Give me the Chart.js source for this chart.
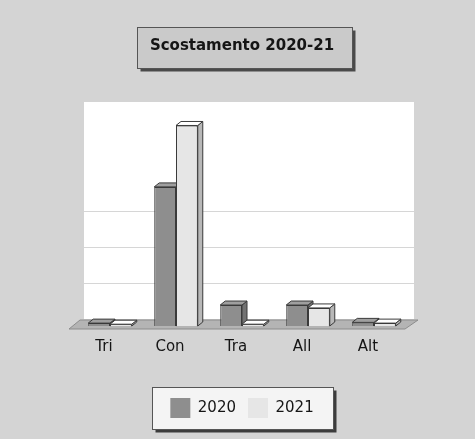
<!DOCTYPE html>
<html>
<head>
<meta charset="utf-8">
<script src="https://cdn.jsdelivr.net/npm/chart.js@4/dist/chart.umd.min.js"></script>
<style>
  html, body { margin: 0; padding: 0; background: #d4d4d4; }
  #wrap { width: 475px; height: 439px; position: relative; }
</style>
</head>
<body>
<div id="wrap"><canvas id="c" width="475" height="439"></canvas></div>
<script>
// Categories and values per year
const categories = ['Tri', 'Con', 'Tra', 'All', 'Alt'];
const values2020 = [0.08, 3.85, 0.58, 0.58, 0.1];
const values2021 = [0.05, 5.55, 0.05, 0.5, 0.08];
const seriesNames = ['2020', '2021'];
const wallGridValues = [1, 2, 3];

const DEPTH = 5;   // bar extrusion
const WALL = 7;    // back wall offset

function shade(hex, f) {
  const n = parseInt(hex.slice(1), 16);
  let r = (n >> 16) & 255, g = (n >> 8) & 255, b = n & 255;
  r = Math.max(0, Math.min(255, Math.round(r * f)));
  g = Math.max(0, Math.min(255, Math.round(g * f)));
  b = Math.max(0, Math.min(255, Math.round(b * f)));
  return 'rgb(' + r + ',' + g + ',' + b + ')';
}

function drawFaces(ctx, meta, color) {
  ctx.save();
  ctx.strokeStyle = '#3a3a3a';
  ctx.lineWidth = 1;
  meta.data.forEach(bar => {
    const p = bar.getProps(['x', 'y', 'base', 'width'], true);
    const l = p.x - p.width / 2, r = p.x + p.width / 2;
    const top = Math.min(p.y, p.base), bot = Math.max(p.y, p.base);
    // side face
    ctx.beginPath();
    ctx.moveTo(r, top);
    ctx.lineTo(r + DEPTH, top - DEPTH + 1);
    ctx.lineTo(r + DEPTH, bot - DEPTH + 1);
    ctx.lineTo(r, bot);
    ctx.closePath();
    ctx.fillStyle = shade(color, 0.8);
    ctx.fill();
    ctx.stroke();
    // top face
    ctx.beginPath();
    ctx.moveTo(l, top);
    ctx.lineTo(l + DEPTH, top - DEPTH + 1);
    ctx.lineTo(r + DEPTH, top - DEPTH + 1);
    ctx.lineTo(r, top);
    ctx.closePath();
    ctx.fillStyle = shade(color, 1.12);
    ctx.fill();
    ctx.stroke();
  });
  ctx.restore();
}

// Back wall, wall grid lines, floor and bar extrusion
const scene3d = {
  id: 'scene3d',
  beforeDatasetsDraw(chart) {
    const { ctx, chartArea: a, scales } = chart;
    ctx.save();
    ctx.fillStyle = '#ffffff';
    ctx.fillRect(a.left + WALL, a.top, a.right - a.left, a.bottom - WALL - a.top);
    ctx.strokeStyle = '#d6d6d6';
    ctx.lineWidth = 1;
    wallGridValues.forEach(v => {
      const y = Math.round(scales.y.getPixelForValue(v) - WALL) + 0.5;
      ctx.beginPath();
      ctx.moveTo(a.left + WALL, y);
      ctx.lineTo(a.right + WALL, y);
      ctx.stroke();
    });
    // floor
    ctx.beginPath();
    ctx.moveTo(a.left - 8, a.bottom + 3);
    ctx.lineTo(a.right - 2, a.bottom + 3);
    ctx.lineTo(a.right + WALL + 4, a.bottom - WALL + 1);
    ctx.lineTo(a.left + WALL - 4, a.bottom - WALL + 1);
    ctx.closePath();
    ctx.fillStyle = '#b4b4b4';
    ctx.fill();
    ctx.strokeStyle = '#8c8c8c';
    ctx.stroke();
    ctx.restore();
  },
  afterDatasetsDraw(chart) {
    const { ctx, chartArea } = chart;
    chart.data.datasets.forEach((ds, i) => {
      const meta = chart.getDatasetMeta(i);
      if (i > 0) {
        // bring later series in front of the previous one's side face
        meta.data.forEach(el => el.draw(ctx, chartArea));
      }
      drawFaces(ctx, meta, ds.backgroundColor);
    });
  }
};

// Framed boxes behind the title and the legend
const frames = {
  id: 'frames',
  beforeDraw(chart) {
    const { ctx } = chart;
    ctx.save();
    const tb = chart.titleBlock;
    if (tb) {
      const w = 215, h = 41;
      const x = Math.round(tb.left + tb.width / 2 - w / 2) + 2.5;
      const y = 27.5;
      ctx.fillStyle = '#4a4a4a';
      ctx.fillRect(x + 3, y + 3, w, h);
      ctx.fillStyle = '#cacaca';
      ctx.fillRect(x, y, w, h);
      ctx.strokeStyle = '#555';
      ctx.lineWidth = 1;
      ctx.strokeRect(x, y, w, h);
    }
    const lg = chart.legend;
    if (lg && lg.legendHitBoxes && lg.legendHitBoxes.length) {
      const hb = lg.legendHitBoxes;
      const x0 = hb[0].left, x1 = hb[hb.length - 1].left + hb[hb.length - 1].width;
      const cy = hb[0].top + hb[0].height / 2;
      const w = 181, h = 42;
      const x = Math.round((x0 + x1) / 2 - w / 2) + 0.5;
      const y = Math.round(cy - h / 2) + 0.5;
      ctx.fillStyle = '#3c3c3c';
      ctx.fillRect(x + 3, y + 3, w, h);
      ctx.fillStyle = '#f4f4f4';
      ctx.fillRect(x, y, w, h);
      ctx.strokeStyle = '#555';
      ctx.lineWidth = 1;
      ctx.strokeRect(x, y, w, h);
    }
    ctx.restore();
  }
};

new Chart(document.getElementById('c'), {
  type: 'bar',
  data: {
    labels: categories,
    datasets: [
      { label: seriesNames[0], data: values2020, backgroundColor: '#8e8e8e',
        borderColor: '#3a3a3a', borderWidth: 1 },
      { label: seriesNames[1], data: values2021, backgroundColor: '#e6e6e6',
        borderColor: '#3a3a3a', borderWidth: 1 }
    ]
  },
  options: {
    responsive: false,
    animation: false,
    layout: { padding: { left: 77, right: 68, top: 0, bottom: 11 } },
    datasets: { bar: { categoryPercentage: 0.66, barPercentage: 1.0 } },
    scales: {
      x: {
        grid: { display: false, drawTicks: false },
        border: { display: false },
        ticks: {
          color: '#151515',
          font: { family: 'DejaVu Sans', size: 15 },
          padding: 12,
          labelOffset: -6
        },
        afterFit(scale) { scale.height = 60; }
      },
      y: {
        display: false,
        min: 0,
        max: 6.2
      }
    },
    plugins: {
      title: {
        display: true,
        text: 'Scostamento 2020-21',
        color: '#151515',
        font: { family: 'DejaVu Sans', size: 15, weight: 'bold' },
        padding: { top: 37, bottom: 47 }
      },
      legend: {
        position: 'bottom',
        labels: {
          boxWidth: 20,
          boxHeight: 20,
          padding: 12,
          color: '#151515',
          font: { family: 'DejaVu Sans', size: 15 },
          generateLabels(chart) {
            return Chart.defaults.plugins.legend.labels.generateLabels(chart)
              .map(it => Object.assign(it, { lineWidth: 0 }));
          }
        }
      },
      tooltip: { enabled: false }
    }
  },
  plugins: [scene3d, frames]
});
</script>
</body>
</html>
